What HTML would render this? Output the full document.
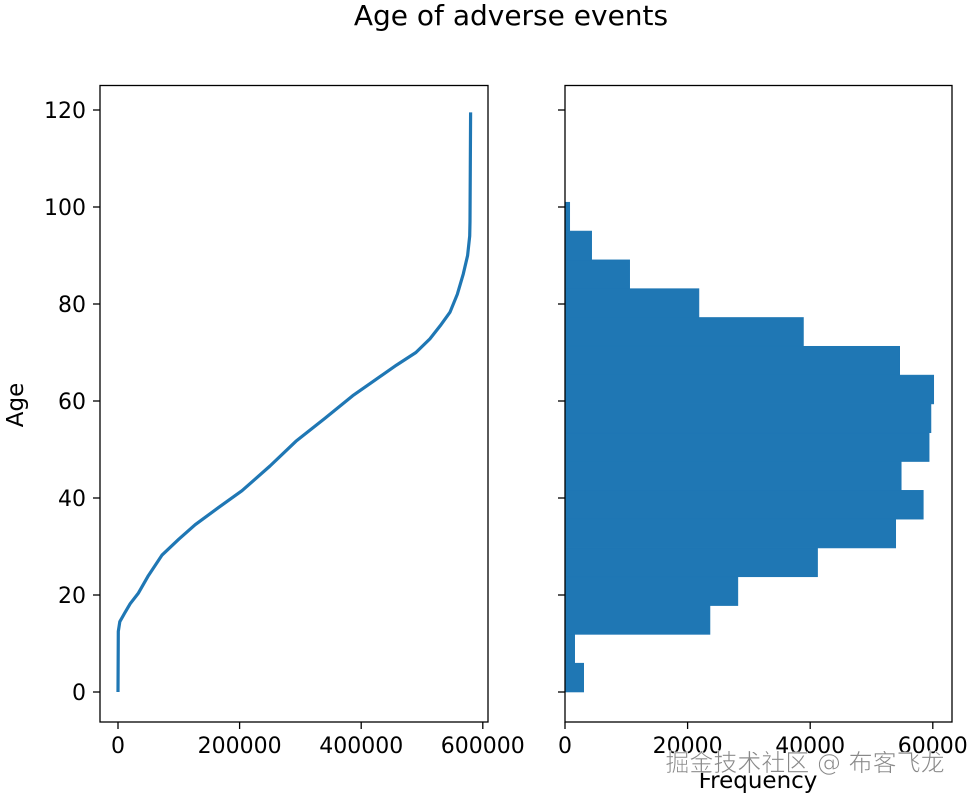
<!DOCTYPE html>
<html><head><meta charset="utf-8"><style>
body{margin:0;background:#fff}
svg text{font-family:"DejaVu Sans","Liberation Sans",sans-serif;fill:#000}
</style></head><body>
<svg id="c" width="971" height="797" xmlns="http://www.w3.org/2000/svg">
<text x="511" y="25" font-size="28" text-anchor="middle">Age of adverse events</text>
<text transform="translate(23,405) rotate(-90)" font-size="23" text-anchor="middle">Age</text>
<text x="758" y="788" font-size="23" text-anchor="middle">Frequency</text>
<g id="lines"></g>
<g id="bars"></g>
<g id="axes"></g>
<text x="805" y="771" font-size="24" text-anchor="middle" font-family="'Liberation Sans','Noto Sans CJK SC',sans-serif" style="fill:#888;stroke:#fff;stroke-width:0.6">掘金技术社区 @ 布客飞龙</text>
</svg>
<script>
const curveIndex=[0,500,3000,11500,20000,33600,50000,72200,100000,127000,165000,204000,250000,292600,340000,386000,458000,490000,513000,530000,546000,558000,568000,575000,578500,579000,579500,580000];
const curveAge=[0,12.5,14.5,16.4,18.2,20.4,24,28.2,31.5,34.5,38,41.5,46.6,51.7,56.4,61.1,67.4,70,72.8,75.5,78.3,82,86.2,90,94,97,108,119.5];
const binEdges=[0,5.94,11.88,17.82,23.76,29.7,35.64,41.58,47.52,53.46,59.4,65.34,71.28,77.22,83.16,89.1,95.04,100.98];
const binCounts=[3050,1580,23650,28200,41200,53950,58450,54850,59400,59700,60150,54600,38900,21850,10550,4350,770];
const yTicks=[0,20,40,60,80,100,120];
const leftXTicks=[0,200000,400000,600000];
const rightXTicks=[0,20000,40000,60000];
const NS="http://www.w3.org/2000/svg";
const svgEl=document.getElementById('c');
function mk(t,a,p){const e=document.createElementNS(NS,t);for(const k in a)e.setAttribute(k,a[k]);(p||svgEl).appendChild(e);return e;}
const yTop=85.5,yBot=722;
const yS=v=>692-(v)*4.85;
const xL=v=>118+v*0.000608;
const xR=v=>565+v*0.00613;
const AX=[{x0:100,x1:488},{x0:565,x1:952}];
let d=curveIndex.map((v,i)=>(i?'L':'M')+xL(v).toFixed(1)+','+yS(curveAge[i]).toFixed(1)).join(' ');
const ln=mk('path',{d:d,fill:'none',stroke:'#1f77b4','stroke-width':3.2,'stroke-linejoin':'round'},document.getElementById('lines'));


const bg=document.getElementById('bars');
binCounts.forEach((c,i)=>{
 const y1=yS(binEdges[i+1]),y0=yS(binEdges[i]);
 const r=mk('rect',{x:xR(0),y:y1,width:xR(c)-xR(0),height:y0-y1,fill:'#1f77b4',stroke:'#1f77b4','stroke-width':0.6},bg);
 
 
});
const ag=document.getElementById('axes');
AX.forEach((A,ai)=>{
 const f=mk('rect',{x:A.x0,y:yTop,width:A.x1-A.x0,height:yBot-yTop,fill:'none',stroke:'#000','stroke-width':1.3},ag);
 
 
 yTicks.forEach(v=>{
  mk('line',{x1:A.x0-7,x2:A.x0,y1:yS(v),y2:yS(v),stroke:'#000','stroke-width':1.3},ag);
  if(!ai){const t=mk('text',{x:A.x0-14,y:yS(v)+8,'font-size':22,'text-anchor':'end'},ag);t.textContent=v;
   
   }
 });
});
leftXTicks.forEach(v=>{
 mk('line',{x1:xL(v),x2:xL(v),y1:yBot,y2:yBot+7,stroke:'#000','stroke-width':1.3},ag);
 const t=mk('text',{x:xL(v),y:yBot+31,'font-size':22,'text-anchor':'middle'},ag);t.textContent=v;
 
 
});
rightXTicks.forEach(v=>{
 mk('line',{x1:xR(v),x2:xR(v),y1:yBot,y2:yBot+7,stroke:'#000','stroke-width':1.3},ag);
 const t=mk('text',{x:xR(v),y:yBot+31,'font-size':22,'text-anchor':'middle'},ag);t.textContent=v;
 
 
});
</script>
</body></html>
